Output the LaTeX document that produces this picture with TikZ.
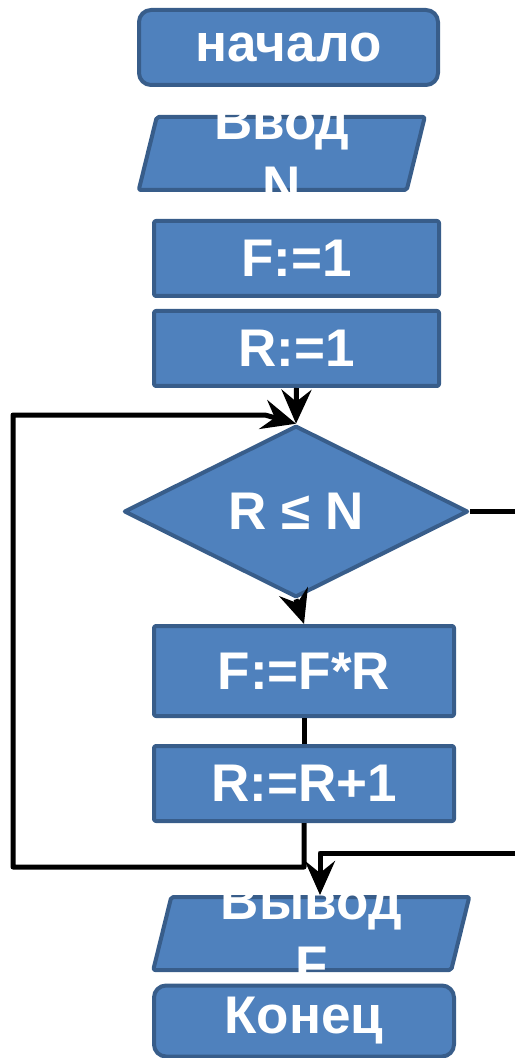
\documentclass[tikz,border=0pt]{standalone}
\usepackage{fontspec}
\setmainfont{Liberation Sans}
\usepackage{tikz}
\usetikzlibrary{shapes.geometric,arrows.meta,positioning,calc}
\definecolor{boxblue}{HTML}{4F81BD}
\definecolor{boxedge}{HTML}{385D8A}

\begin{document}
\begin{tikzpicture}[x=0.5pt,y=-0.5pt,>={Stealth[length=17pt,width=15pt,inset=6pt]},line join=round,
    blk/.style={draw=boxedge,fill=boxblue,line width=2pt,text=white,inner sep=0pt,font=\bfseries\fontsize{26.5}{32}\selectfont,align=center},
    proc/.style={blk,rectangle,rounded corners=1pt,minimum width=#1},
    proc/.default=150pt,
    term/.style={blk,rectangle,rounded corners=6pt},
    io/.style={blk,rectangle,rounded corners=1pt,xslant=0.2466,transform shape,minimum height=36.5pt},
    cond/.style={blk,diamond,minimum width=172pt,minimum height=79.5pt},
    lbl/.style={text=white,inner sep=0pt,font=\bfseries\fontsize{26.5}{32}\selectfont,align=center},
    link/.style={line width=2.5pt}]
      \useasboundingbox (0,0) rectangle (514,1058);

      \coordinate (loopB) at (13,867);
      \coordinate (loopT) at (265,415);
      \coordinate (exitR) at (517,853);
      \coordinate (exitD) at (320,853);

      \node[term,minimum width=149.5pt,minimum height=37.5pt] (start) at (288.5,47.5) {начало};
      \node[io,minimum width=134pt] (inp) at (281.75,153.5) {};
      \node[proc=142.5pt,minimum height=37.5pt] (f1) at (296.5,258.5) {F:=1};
      \node[proc=142.5pt,minimum height=37.5pt] (r1) at (296.5,348.5) {R:=1};
      \node[cond] (dia) at (296,511.5) {R ≤ N};
      \node[proc,minimum height=45pt] (fr) at (304,671) {F:=F*R};
      \node[proc,minimum height=37.5pt] (rr) at (304,783.5) {R:=R+1};
      \node[io,minimum width=149pt] (out) at (311.25,933.5) {};
      \node[term,minimum width=150pt,minimum height=35.5pt] (stop) at (304,1021) {Конец};

      \node[lbl] (inptxt) at (inp) {Ввод\\N};
      \node[lbl] (outtxt) at (out) {Вывод\\F};

      \draw[link,->] (r1.south) -- (dia.north);
      \draw[link,->] (dia.south) -- (fr.north);
      \draw[link] (fr.south) -- (rr.north);
      \draw[link,->] (rr.south) |- (loopB) |- (loopT) -- (dia.north);
      \draw[link,->] (dia.east) -| (exitR) -- (exitD) -- (exitD |- out.north);
    \end{tikzpicture}
\end{document}
